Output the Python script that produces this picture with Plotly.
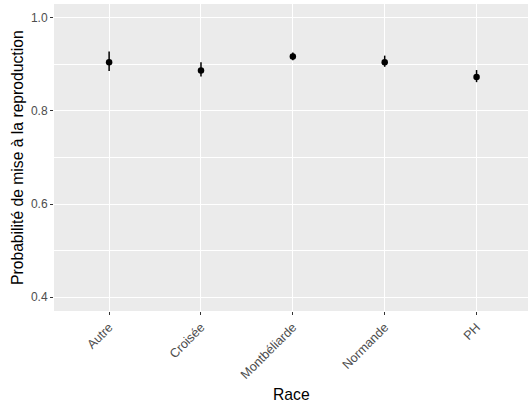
import plotly.graph_objects as go

races = ["Autre", "Croisée", "Montbéliarde", "Normande", "PH"]
prob = [0.905, 0.887, 0.917, 0.905, 0.873]
lower = [0.886, 0.874, 0.909, 0.895, 0.862]
upper = [0.928, 0.905, 0.926, 0.919, 0.888]

x_title = "Race"
y_title = "Probabilité de mise à la reproduction"

err_plus = [u - p for u, p in zip(upper, prob)]
err_minus = [p - l for p, l in zip(prob, lower)]

fig = go.Figure()
fig.add_trace(go.Scatter(
    x=races, y=prob, mode="markers",
    marker=dict(color="black", size=6.5),
    error_y=dict(type="data", array=err_plus, arrayminus=err_minus,
                 color="black", thickness=1.5, width=0),
    showlegend=False,
))

W, H = 528, 406
L, R, T, B = 54, 0, 4, 95
pw, ph = W - L - R, H - T - B

fig.update_layout(
    width=W, height=H,
    margin=dict(l=L, r=R, t=T, b=B, autoexpand=False),
    paper_bgcolor="white", plot_bgcolor="#EBEBEB",
    font=dict(family="Liberation Sans, Arial, sans-serif", color="#4D4D4D", size=12),
    xaxis=dict(
        range=[-0.6, 4.56], showgrid=True, gridcolor="white", gridwidth=1.1,
        zeroline=False, ticks="outside", ticklen=3, tickcolor="#333333", tickwidth=1,
        tickangle=-45, tickfont=dict(size=12.6, color="#4D4D4D"), automargin=False,
    ),
    yaxis=dict(
        range=[0.37, 1.03], tickvals=[0.4, 0.6, 0.8, 1.0],
        ticktext=["0.4", "0.6", "0.8", "1.0"],
        showgrid=True, gridcolor="white", gridwidth=1.1, zeroline=False,
        ticks="outside", ticklen=3, tickcolor="#333333", tickwidth=1,
        tickfont=dict(size=12, color="#4D4D4D"), automargin=False,
        minor=dict(tickvals=[0.5, 0.7, 0.9], showgrid=True, gridcolor="white", gridwidth=0.5, ticks=""),
    ),
    annotations=[
        dict(text=x_title, xref="paper", yref="paper", x=0.5, y=-(394 - (T + ph)) / ph,
             xanchor="center", yanchor="middle", showarrow=False,
             font=dict(size=15.7, color="black")),
        dict(text=y_title, xref="paper", yref="paper", x=(17.5 - L) / pw, y=0.5,
             xanchor="center", yanchor="middle", textangle=-90, showarrow=False,
             font=dict(size=15.7, color="black")),
    ],
)

fig.write_html("out.html", config={"displayModeBar": False},
               post_script="document.body.style.margin='0';document.body.style.overflow='hidden';")
